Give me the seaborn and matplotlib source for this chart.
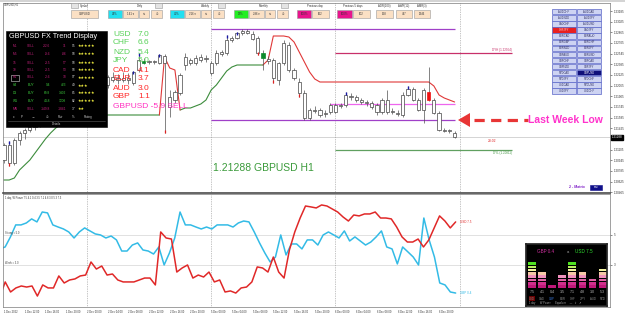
import numpy as np
import pandas as pd
import seaborn as sns
import matplotlib.pyplot as plt
from matplotlib.patches import Rectangle, Polygon
from matplotlib.lines import Line2D
from matplotlib.transforms import Affine2D, blended_transform_factory

# ---------------- price panel data : GBPUSD H1, 1 Dec 08:00 .. 6 Dec 23:00
opens = [1.2095, 1.21175, 1.20905, 1.2125, 1.21355, 1.214, 1.21445, 1.2149, 1.2155, 1.2164,
         1.217, 1.2176, 1.2182, 1.2188, 1.2191, 1.2197, 1.22, 1.2203, 1.2206, 1.2209,
         1.22075, 1.22195, 1.2215, 1.2218, 1.2215, 1.22105, 1.223, 1.22405, 1.22435, 1.2242,
         1.22405, 1.2251, 1.21895, 1.2185, 1.21955, 1.22375, 1.2245, 1.22405, 1.2245, 1.2248,
         1.22405, 1.22405, 1.2254, 1.22555, 1.2275, 1.2278, 1.22855, 1.22885, 1.2284, 1.2278,
         1.22555, 1.22465, 1.2245, 1.2215, 1.22405, 1.22675, 1.223, 1.2212, 1.21955, 1.2158,
         1.217, 1.21625, 1.21655, 1.2167, 1.2167, 1.21775, 1.21775, 1.2191, 1.21895, 1.2185,
         1.2182, 1.21805, 1.21775, 1.2167, 1.2185, 1.21685, 1.21655, 1.21625, 1.21925, 1.22015,
         1.2185, 1.217, 1.2197, 1.2185, 1.21655, 1.214, 1.21385, 1.21355]
highs = [1.21205, 1.21235, 1.2128, 1.21385, 1.2143, 1.21475, 1.2152, 1.2158, 1.2167, 1.2173,
         1.2179, 1.2185, 1.2191, 1.2194, 1.22, 1.2203, 1.2209, 1.22105, 1.2215, 1.2218,
         1.22225, 1.2227, 1.2224, 1.2227, 1.22255, 1.22285, 1.22555, 1.2248, 1.2245, 1.2245,
         1.2254, 1.2254, 1.22, 1.22, 1.22255, 1.22555, 1.2248, 1.22525, 1.2254, 1.22525,
         1.22435, 1.226, 1.226, 1.22825, 1.2281, 1.2287, 1.22915, 1.22915, 1.22885, 1.2281,
         1.226, 1.2251, 1.2248, 1.2242, 1.2275, 1.2272, 1.2233, 1.2218, 1.22, 1.2173,
         1.2176, 1.2173, 1.217, 1.21805, 1.21805, 1.21805, 1.2197, 1.21955, 1.21925, 1.2188,
         1.2185, 1.21835, 1.21805, 1.2188, 1.22, 1.2173, 1.217, 1.2197, 1.2206, 1.22045,
         1.2188, 1.2203, 1.22345, 1.2188, 1.21685, 1.2143, 1.21415, 1.21385]
lows = [1.20905, 1.2086, 1.20875, 1.21175, 1.21265, 1.2137, 1.214, 1.21445, 1.21505, 1.2158,
        1.21655, 1.21715, 1.21775, 1.2182, 1.21865, 1.2191, 1.2194, 1.2197, 1.22015, 1.22045,
        1.2203, 1.2212, 1.2209, 1.2212, 1.2209, 1.22075, 1.2227, 1.2239, 1.2239, 1.2239,
        1.2239, 1.21355, 1.21595, 1.21805, 1.21925, 1.223, 1.22375, 1.22375, 1.2242, 1.2242,
        1.22225, 1.22375, 1.2251, 1.22525, 1.2272, 1.22765, 1.22825, 1.2284, 1.2275, 1.22525,
        1.223, 1.2239, 1.22105, 1.22075, 1.22375, 1.2227, 1.2215, 1.21895, 1.2155, 1.2155,
        1.21655, 1.21595, 1.21595, 1.2164, 1.21655, 1.2173, 1.21745, 1.2185, 1.2182, 1.2179,
        1.2176, 1.21715, 1.21625, 1.2164, 1.2164, 1.2164, 1.2161, 1.21595, 1.2191, 1.21835,
        1.21685, 1.21505, 1.21835, 1.2164, 1.21385, 1.2137, 1.21355, 1.2128]
closes = [1.21175, 1.20905, 1.2125, 1.21355, 1.214, 1.21445, 1.2149, 1.2155, 1.2164, 1.217,
          1.2176, 1.2182, 1.2188, 1.2191, 1.2197, 1.22, 1.2203, 1.2206, 1.2209, 1.2212,
          1.22195, 1.2215, 1.2218, 1.2215, 1.2218, 1.2227, 1.2245, 1.22435, 1.2242, 1.22435,
          1.22525, 1.22405, 1.21745, 1.2197, 1.22225, 1.22495, 1.22405, 1.2248, 1.22495, 1.22465,
          1.22255, 1.22555, 1.2257, 1.2275, 1.2278, 1.22855, 1.22885, 1.22855, 1.22765, 1.22555,
          1.2248, 1.22435, 1.2218, 1.22405, 1.22705, 1.223, 1.2218, 1.21955, 1.2158, 1.217,
          1.21685, 1.217, 1.2164, 1.21775, 1.21775, 1.2176, 1.21925, 1.21895, 1.2185, 1.2182,
          1.21805, 1.21745, 1.2167, 1.2185, 1.2167, 1.2167, 1.2164, 1.21925, 1.22015, 1.2185,
          1.217, 1.22, 1.2185, 1.21655, 1.214, 1.21385, 1.214, 1.21288]

nan = np.nan
green_stop = ([1.2065, 1.2065, 1.2068, 1.2080, 1.20875, 1.2095, 1.21055, 1.2116, 1.21265, 1.21355,
               1.2143, 1.2149, 1.21535, 1.2158, 1.2161] + [1.21625] * 16 + [nan] * 3
              + [1.2170, 1.2173, 1.2173, 1.2176, 1.2179, 1.2185, 1.2200, 1.22075, 1.2218, 1.22285, 1.22345]
              + [1.22375] * 6 + [nan] * 37)
red_stop = ([nan] * 30 + [1.21625, 1.22495, 1.2233, 1.2230, 1.2170] + [nan] * 15
            + [1.22375, 1.2245, 1.2281, 1.2281, 1.2281, 1.22795, 1.2272, 1.2257, 1.2242, 1.2227, 1.22165]
            + [1.2212] * 22 + [1.2206, 1.21925, 1.2188, 1.2185, 1.2182])

green_bars = [27, 50]
red_bars = [82]
blue_tops = [1, 25, 26, 30, 43, 45, 66, 78]
red_tips = [1, 31, 49, 52, 57]

# horizontal levels: price, first bar, last bar, colour
levels = [(1.22915, 40, 87, '#a040c8'),
          (1.2155, 40, 87, '#a040c8'),
          (1.22555, 64, 98, '#c8306a'),
          (1.2110, 64, 98, '#60a060'),
          (1.2179, 63, 87, '#ee66ee')]
bid = 1.21288
day_starts = [16, 40, 64, 88]
price_ticks = [1.23185, 1.23025, 1.22865, 1.22705, 1.22545, 1.22385, 1.22225, 1.22065, 1.21905,
               1.21745, 1.21585, 1.21425, 1.21105, 1.20945, 1.20785, 1.20625, 1.20465]

# ---------------- strength panel data
gbp_power = [4.07, 4.2, 4.87, 5.67, 5.67, 5.8, 6.07, 5.87, 6.53, 6.47, 5.67, 5.53, 5.4, 5.2, 4.8,
             5.2, 5.47, 5.27, 5.07, 5.0, 4.8, 4.93, 4.67, 3.93, 3.93, 4.33, 4.47, 4.0, 3.93, 3.73,
             4.2, 3.0, 3.8, 4.8, 6.53, 5.67, 5.67, 5.53, 5.4, 5.53, 5.4, 5.67, 5.67, 5.67, 5.53,
             5.8, 5.93, 5.87, 5.2, 4.47, 3.8, 3.2, 3.53, 5.0, 3.67, 4.4, 4.4, 4.07, 4.67, 4.67,
             4.33, 5.0, 5.2, 5.0, 4.8, 5.27, 4.6, 4.87, 4.6, 4.33, 4.53, 4.87, 5.27, 4.2, 4.07,
             3.07, 4.2, 3.87, 3.53, 3.0, 6.13, 4.67, 3.53, 1.8, 1.67, 1.2, 1.13]
usd_power = [0.87, 1.87, 1.2, 1.47, 1.6, 1.53, 1.6, 0.93, 1.67, 1.47, 1.47, 2.27, 1.8, 2.0, 2.07,
             2.27, 2.33, 3.2, 2.73, 2.93, 2.33, 2.4, 2.0, 1.87, 1.87, 1.87, 2.0, 2.13, 2.13, 1.67,
             5.2, 4.8, 4.73, 2.53, 2.8, 3.0, 2.13, 2.33, 2.2, 2.53, 1.87, 2.0, 1.2, 1.27, 1.13,
             1.47, 1.53, 1.87, 2.87, 2.8, 2.53, 3.53, 2.53, 2.13, 4.0, 5.2, 6.13, 6.93, 6.87, 6.8,
             7.0, 6.93, 6.73, 6.53, 6.2, 5.93, 6.33, 6.27, 6.4, 6.4, 6.53, 6.13, 6.13, 6.07, 5.53,
             4.87, 4.53, 4.53, 4.73, 4.2, 4.67, 5.47, 6.27, 5.93, 5.47, 5.87]
time_ticks = list(range(0, 88, 4))
time_labels = ['1 Dec 2022', '1 Dec 12:00', '1 Dec 16:00', '1 Dec 20:00',
               '2 Dec 00:00', '2 Dec 04:00', '2 Dec 08:00', '2 Dec 12:00', '2 Dec 16:00', '2 Dec 20:00',
               '5 Dec 00:00', '5 Dec 04:00', '5 Dec 08:00', '5 Dec 12:00', '5 Dec 16:00', '5 Dec 20:00',
               '6 Dec 00:00', '6 Dec 04:00', '6 Dec 08:00', '6 Dec 12:00', '6 Dec 16:00', '6 Dec 20:00']

# ---------------- side widgets
strength_ccy = ['USD', 'CHF', 'NZD', 'JPY', 'CAD', 'EUR', 'AUD', 'GBP']
strength_val = [7.0, 6.6, 5.4, 5.0, 4.1, 3.7, 3.0, 1.1]
trend_tf = ['M1', 'M5', '15', '30', 'H1', 'H4', 'D1', 'W1', 'MN']
trend_sig = ['SELL', 'SELL', 'SELL', 'SELL', 'SELL', 'BUY', 'BUY', 'BUY', 'SELL']
trend_val = ['-32.6', '-9.6', '-3.5', '-3.5', '-2.6', '9.4', '69.8', '44.8', '-149.8']
trend_pips = ['11', '-86', '57', '53', '18', '423', '1402', '1208', '-1841']
trend_pct = ['95', '98', '98', '98', '97', '49', '85', '82', '37']
trend_stars = [5, 5, 5, 5, 5, 3, 5, 5, 2]
eq_ccy = ['USD', 'CAD', 'GBP', 'EUR', 'CHF', 'JPY', 'AUD', 'NZD']
eq_val = [7.5, 4.1, 0.4, 3.5, 7.1, 4.8, 3.0, 5.3]
pairs_left = ['AUDCHF', 'AUDNZD', 'CADCHF', 'CHFJPY', 'EURCAD', 'EURGBP', 'EURNZD',
              'GBPAUD', 'GBPCHF', 'GBPNZD', 'NZDCAD', 'NZDJPY', 'USDCAD', 'USDJPY']
pairs_right = ['AUDCAD', 'AUDJPY', 'AUDUSD', 'CADJPY', 'EURAUD', 'EURCHF', 'EURJPY',
               'EURUSD', 'GBPCAD', 'GBPJPY', 'GBPUSD', 'NZDCHF', 'NZDUSD', 'USDCHF']

sns.set_theme(style="white")
plt.rcParams['font.family'] = ['Liberation Sans', 'DejaVu Sans']

W, H = 625, 315
fig = plt.figure(figsize=(W / 100, H / 100), dpi=100)
PX = Affine2D().scale(1 / W, -1 / H).translate(0, 1) + fig.transFigure


def axes_px(x0, y0, x1, y1):
    return fig.add_axes([x0 / W, 1 - y1 / H, (x1 - x0) / W, (y1 - y0) / H])


def box(x0, y0, x1, y1, fc, ec='#9a9a9a', lw=0.4, z=8):
    fig.add_artist(Rectangle((x0, y0), x1 - x0, y1 - y0, transform=PX, fc=fc, ec=ec, lw=lw, zorder=z))


def label(x, y, s, size=2.2, color='#303030', ha='left', z=12, **kw):
    fig.text(x, y, s, transform=PX, fontsize=size, color=color, ha=ha, va='center', zorder=z, **kw)


XLIM = (-0.19, 117.0)

# ---------------- price panel
ax = axes_px(3, 3, 610, 193)
idx = np.arange(len(closes))
o, hi, lo, c = (np.array(v) for v in (opens, highs, lows, closes))
ax.vlines(idx, lo, hi, color='#505050', lw=0.5, zorder=3)
face = ['white'] * len(idx)
edge = ['#454545'] * len(idx)
for i in green_bars:
    face[i] = edge[i] = '#0c8a2c'
for i in red_bars:
    face[i] = edge[i] = '#ee1111'
ax.bar(idx, np.maximum(np.abs(c - o), 0.00004), bottom=np.minimum(o, c), width=0.62,
       color=face, edgecolor=edge, lw=0.5, zorder=4)
ax.vlines(blue_tops, hi[blue_tops] - 0.0004, hi[blue_tops], color='#1a1aa8', lw=1.0, zorder=5)
ax.vlines(red_tips, lo[red_tips], lo[red_tips] + 0.0004, color='#e02020', lw=0.9, zorder=5)
ax.plot(idx, green_stop, color='#3c8c3c', lw=0.8, zorder=2)
ax.plot(idx, red_stop, color='#e03838', lw=0.8, zorder=2)
for price, a, b, col in levels:
    ax.hlines(price, a, b, color=col, lw=0.9, zorder=2)
ax.axhline(bid, color='#c4c4c4', lw=0.5, zorder=1)
for d in day_starts:
    ax.axvline(d, color='#8c8c8c', lw=0.5, ls=(0, (1, 1.5)), zorder=1)
ax.text(98, 1.22555 + 0.0002, 'DYH (1.22964)', fontsize=2.2, color='#c8306a', ha='right', va='bottom')
ax.text(98, 1.2110 - 0.0001, 'DYL (1.20811)', fontsize=2.2, color='#4c9a4c', ha='right', va='top')
ax.text(93.5, bid - 0.0003, '28:02', fontsize=2.4, color='#e02020', ha='left', va='top')
ax.set_xlim(*XLIM)
ax.set_ylim(1.20455, 1.23305)
ax.yaxis.tick_right()
ax.set_yticks(price_ticks)
ax.set_yticklabels([f'{p:.5f}' for p in price_ticks])
ax.tick_params(axis='y', labelsize=2.2, length=1.5, width=0.4, pad=1, colors='#303030')
ax.tick_params(axis='x', bottom=False, labelbottom=False)
for s in ax.spines.values():
    s.set_color('#7a7a7a')
    s.set_linewidth(0.5)
ax.spines['bottom'].set_color('#4a4a4a')
ax.spines['bottom'].set_linewidth(1.2)
ax.text(1.003, bid, '1.21288', transform=blended_transform_factory(ax.transAxes, ax.transData),
        fontsize=2.2, color='white', ha='left', va='center',
        bbox=dict(boxstyle='square,pad=0.25', fc='black', ec='black'))

# ---------------- strength panel
axb = axes_px(3, 194, 610, 307)
xb_gbp = np.linspace(-0.8, 87.2, len(gbp_power))
xb_usd = np.linspace(-0.8, 87.2, len(usd_power))
sns.lineplot(x=xb_gbp, y=gbp_power, color='#33bbe6', lw=1.1, ax=axb)
sns.lineplot(x=xb_usd, y=usd_power, color='#e02828', lw=1.1, ax=axb)
for lvl in (5.0, 3.0):
    axb.axhline(lvl, color='#d4d4d4', lw=0.5, zorder=0)
for d in day_starts:
    axb.axvline(d, color='#8c8c8c', lw=0.5, ls=(0, (1, 1.5)), zorder=0)
axb.text(0.2, 5.0, 'Strong = 5.0', fontsize=1.9, color='#404040', va='bottom')
axb.text(0.2, 3.0, 'Weak = 3.0', fontsize=1.9, color='#404040', va='bottom')
axb.text(88, usd_power[-1], 'USD 7.5', fontsize=2.2, color='#e02828', va='center')
axb.text(88, gbp_power[-1], 'GBP 0.4', fontsize=2.2, color='#33bbe6', va='center')
axb.text(0.003, 0.985, '1 day, W Power 7.5 4.1 0.4 3.5 7.1 4.8 3.0 5.3 7.5', transform=axb.transAxes,
         fontsize=1.8, color='#303030', va='top')
axb.set_xlim(*XLIM)
axb.set_ylim(0.2, 7.73)
axb.set_xticks(time_ticks)
axb.set_xticklabels(time_labels, ha='left')
axb.yaxis.tick_right()
axb.set_yticks([5.0, 3.0])
axb.set_yticklabels(['5', '3'])
axb.tick_params(axis='x', labelsize=1.9, length=1.5, width=0.4, pad=1, colors='#303030')
axb.tick_params(axis='y', labelsize=2.2, length=1.5, width=0.4, pad=1, colors='#303030')
for s in axb.spines.values():
    s.set_color('#7a7a7a')
    s.set_linewidth(0.5)

# ---------------- equalizer widget
axm = axes_px(526, 244, 607, 306)
axm.set_zorder(6)
axm.set_facecolor('black')
block_cols = ['#c0187a', '#d0308c', '#e060a4', '#f090bc', '#f4c8a6', '#f2f2a0', '#b8f060', '#4ee020']
pos = np.arange(len(eq_val))
blocks = np.ceil(eq_val)
for lvl, col in enumerate(block_cols):
    m = blocks > lvl
    axm.bar(pos[m], 0.78, bottom=lvl, width=0.78, color=col, lw=0)
for k, (v, cc) in enumerate(zip(eq_val, eq_ccy)):
    axm.text(k, -0.6, f'{v:.1f}', fontsize=2.6, color='#b8b8b8', ha='center', va='top')
    axm.text(k, -2.6, cc, fontsize=2.0, ha='center', va='top',
             color='#3a7ae0' if cc == 'GBP' else '#909090',
             bbox=dict(boxstyle='square,pad=0.1', fc='#6a0000', ec='none') if cc == 'USD' else None)
axm.text(0.5, 10.9, 'GBP 0.4', fontsize=3.3, color='#d030a0', ha='left', va='center')
axm.text(3.55, 10.9, 'a', fontsize=3.0, color='#a0a0a0', ha='center', va='center')
axm.text(4.3, 10.9, 'USD 7.5', fontsize=3.3, color='#30e030', ha='left', va='center')
axm.text(-0.3, -4.6, '1 day      W Power      Equalizer     \u2014   \u21e7   \u21d7', fontsize=1.9,
         color='#a0a0a0', ha='left', va='center')
axm.set_xlim(-0.59, 7.43)
axm.set_ylim(-5.45, 13.3)
axm.set_xticks([])
axm.set_yticks([])

# ---------------- overlays in pixel space
box(0, 0, 625, 1.5, '#d4d4d4', ec='none', z=8)
label(4, 4.5, 'GBPUSD,H1', size=1.8)

tool_boxes = [(71, 98, 'GBPUSD', '#fbe0c4'),
              (108, 122, '34%', '#22e0f0'), (123, 138, '141 \u25be', '#fbe0c4'),
              (139, 149, '\u21c5', '#fbe0c4'), (151, 162, '\u2609', '#fbe0c4'),
              (170, 184, '46%', '#22e0f0'), (185, 200, '216 \u25be', '#fbe0c4'),
              (201, 211, '\u21c5', '#fbe0c4'), (213, 224, '\u2609', '#fbe0c4'),
              (234, 248, '29%', '#22ee22'), (249, 264, '296 \u25be', '#fbe0c4'),
              (265, 275, '\u21c5', '#fbe0c4'), (277, 288, '\u2609', '#fbe0c4'),
              (297, 311, '100%', '#e8148c'), (312, 329, '162', '#fbe0c4'),
              (337, 352, '100%', '#e8148c'), (353, 370, '102', '#fbe0c4'),
              (376, 393, '158', '#fbe0c4'), (396, 412, '477', '#fbe0c4'), (414, 430, '1346', '#fbe0c4')]
for x0, x1, s, fc in tool_boxes:
    box(x0, 10, x1, 18, fc)
    label((x0 + x1) / 2, 14, s, size=2.0, ha='center')
tool_titles = [(84, 'Symbol'), (140, 'Daily'), (205, 'Weekly'), (264, 'Monthly'), (315, 'Previous day'),
               (353, 'Previous 5 days'), (384, 'ADR(100)'), (404, 'AWR(12)'), (422, 'AMR(3)')]
for x, s in tool_titles:
    label(x, 6, s, size=2.0, ha='center')
for x0 in (71, 155, 218, 281):
    box(x0, 3, x0 + 7, 8, '#e4e4e4')

for r, (pl, pr) in enumerate(zip(pairs_left, pairs_right)):
    y0 = 9 + 6.1 * r
    for x0, p in ((552, pl), (577, pr)):
        fc, tc = '#cdd3f2', '#303060'
        if p == 'CHFJPY':
            fc, tc = '#e82020', '#ffd0d0'
        if p == 'GBPUSD':
            fc, tc = '#10107a', 'white'
        box(x0, y0, x0 + 24, y0 + 5.4, fc, ec='#5a66c8', lw=0.5)
        label(x0 + 12, y0 + 2.8, p, size=1.9, color=tc, ha='center')

# trend display panel
box(6, 31, 107, 127, 'black', ec='black', z=10)
label(9, 36.5, 'GBPUSD FX Trend Display', size=5.2, color='white', z=11)
row_y = [46, 54, 62.5, 70, 77.5, 85.5, 93, 101, 109]
for k, y in enumerate(row_y):
    col = '#c0207a' if trend_sig[k] == 'SELL' else '#3cc83c'
    label(15, y, trend_tf[k], size=2.3, color=col, ha='center', z=11)
    label(31, y, trend_sig[k], size=2.3, color=col, ha='center', z=11)
    label(50, y, trend_val[k], size=2.3, color=col, ha='right', z=11)
    label(66, y, trend_pips[k], size=2.3, color=col, ha='right', z=11)
    label(72, y, trend_pct[k], size=2.3, color='#e0e0e0', z=11)
    label(78, y, '\u2605' * trend_stars[k], size=2.8, color='#f4f040', z=11)
box(11, 74.5, 19, 80.5, 'none', ec='#d0d0d0', lw=0.4, z=11)
for x, s in [(14, 'x'), (22, 'P'), (33, '\u2194'), (47, '\u2609'), (60, 'Pair'), (73, '%'), (88, 'Rating')]:
    label(x, 117, s, size=2.2, color='#c8c8c8', ha='center', z=11)
fig.add_artist(Line2D([8, 105], [120.5, 120.5], transform=PX, color='#606060', lw=0.4, zorder=11))
label(56, 124, 'Details', size=2.2, color='#c8c8c8', ha='center', z=11)

# currency strength list
for k, (cc, v) in enumerate(zip(strength_ccy, strength_val)):
    col = '#5ad25a' if v >= 5.0 else '#ff2a2a'
    label(113, 34 + 9 * k, cc, size=6.0, color=col)
    label(138, 34 + 9 * k, f'{v:.1f}', size=6.0, color=col)
label(113, 106, 'GBPUSD -5.9 SELL', size=6.0, color='#ff30c0')

label(213, 168, '1.21288 GBPUSD H1', size=7.5, color='#3a9a3a')

# last week low call-out
fig.add_artist(Polygon([(458, 120), (470, 113), (470, 127)], closed=True, transform=PX,
                       fc='#e83535', ec='none', zorder=12))
fig.add_artist(Line2D([474, 528], [120, 120], transform=PX, color='#e83535', lw=2.3,
                      dashes=(3.2, 2.0), solid_capstyle='butt', zorder=12))
label(528, 120, 'Last Week Low', size=7.5, color='#ff33cc', weight='bold')

label(585, 187, '2 - Matrix', size=2.6, color='#8020c8', ha='right', weight='bold')
box(590, 184.5, 602, 189.5, '#10108a', ec='#10108a')
label(596, 187, 'max', size=1.8, color='white', ha='center')

fig.savefig('out.png', dpi=100)
